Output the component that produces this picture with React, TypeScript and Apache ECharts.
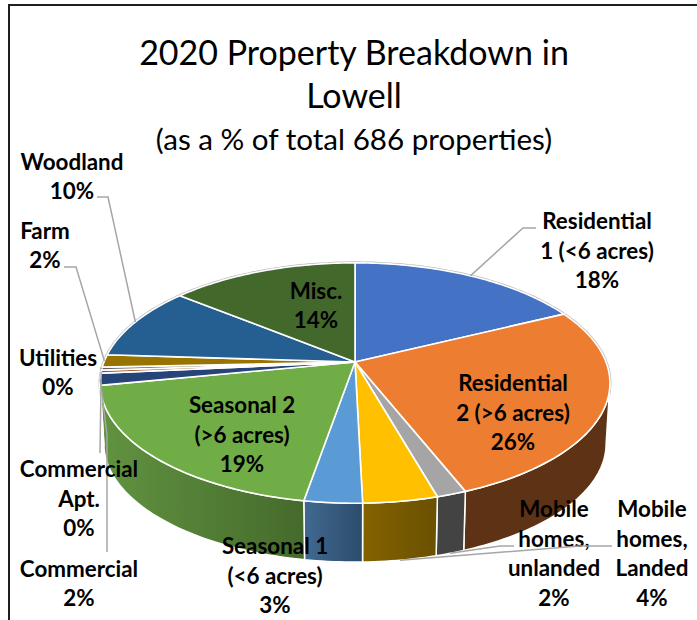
import React, { useEffect, useRef } from "react";
import * as echarts from "echarts";

const labelLines = [
  "Residential\n1 (<6 acres)",
  "Residential\n2 (>6 acres)",
  "Mobile\nhomes,\nunlanded",
  "Mobile\nhomes,\nLanded",
  "Seasonal 1\n(<6 acres)",
  "Seasonal 2\n(>6 acres)",
  "Commercial",
  "Commercial\nApt.",
  "Utilities",
  "Farm",
  "Woodland",
  "Misc.",
];
const shares = [17.7, 26.3, 1.6, 4.0, 3.1, 19.2, 1.6, 0.4, 0.4, 1.7, 9.9, 14.1];
const topColors = ["#4472C4", "#ED7D31", "#A5A5A5", "#FFC000", "#5B9BD5", "#70AD47", "#264478", "#9E480E", "#636363", "#997300", "#255E91", "#43682B"];
const wallLeft = ["#2A4478", "#5E3214", "#434343", "#836300", "#41698F", "#619340", "#172A4A", "#5F2B08", "#3B3B3B", "#5C4500", "#163856", "#283E1A"];
const wallRight = ["#2A4478", "#5E3214", "#434343", "#6A5000", "#2C4C6C", "#456A2C", "#172A4A", "#5F2B08", "#3B3B3B", "#5C4500", "#163856", "#283E1A"];
const labelCenters: number[][] = [
  [597, 250], [513, 412], [554, 553], [652, 553], [275, 575], [242, 434],
  [79, 583], [79, 498], [58, 372], [45, 245], [72, 176], [316, 305],
];
const leaderElbows: (number[][] | null)[] = [
  [[523, 228], [536, 228]],
  null,
  [[500, 546], [514, 546]],
  [[580, 546], [612, 546]],
  null,
  null,
  [[107, 435], [107, 552]],
  [[100, 453]],
  [[100, 368]],
  [[76, 267], [64, 267]],
  [[108, 197], [97, 197]],
  null,
];
const leaderFromFloor = [false, false, true, true, false, false, false, false, false, false, false, false];

const CX = 355;
const CY = 362;
const R = 251;
const TILT = 116.5;
const K = 0.175;
const WALL_DROP = 61;
const WALL_SCALE = 0.985;
const EDGE = Math.acos(-K);
const total = shares.reduce((a, b) => a + b, 0);

const startAngle = (i: number) => (shares.slice(0, i).reduce((a, b) => a + b, 0) / total) * Math.PI * 2;
const endAngle = (i: number) => startAngle(i + 1);

const rim = (a: number) => {
  const w = 1 + K * Math.cos(a);
  return [CX + (R * Math.sin(a)) / w, CY - (TILT * Math.cos(a)) / w];
};
const floor = (a: number) => {
  const p = rim(a);
  return [CX + (p[0] - CX) * WALL_SCALE, CY + WALL_DROP + (p[1] - CY) * WALL_SCALE];
};
const arc = (a0: number, a1: number, fn: (a: number) => number[]) => {
  const n = Math.max(2, Math.ceil((a1 - a0) / 0.02));
  const pts: number[][] = [];
  for (let j = 0; j <= n; j++) pts.push(fn(a0 + ((a1 - a0) * j) / n));
  return pts;
};

const renderWall = (params: any) => {
  const i = params.dataIndex;
  const a0 = startAngle(i);
  const a1 = endAngle(i);
  const children: any[] = [
    {
      type: "polyline",
      shape: { points: arc(a0, a1, rim) },
      style: { fill: "none", stroke: "#BDBDBD", lineWidth: 3 },
    },
  ];
  const w0 = Math.max(a0, EDGE);
  const w1 = Math.min(a1, Math.PI * 2 - EDGE);
  if (w1 > w0) {
    children.push({
      type: "polygon",
      shape: { points: [...arc(w0, w1, rim), ...arc(w0, w1, floor).reverse()] },
      style: {
        fill: new echarts.graphic.LinearGradient(0, 0, 1, 0, [
          { offset: 0, color: wallLeft[i] },
          { offset: 1, color: wallRight[i] },
        ]),
        stroke: "#fff",
        lineWidth: 1.5,
      },
    });
  }
  return { type: "group", children };
};

const renderTop = (params: any) => {
  const i = params.dataIndex;
  return {
    type: "polygon",
    shape: { points: [[CX, CY], ...arc(startAngle(i), endAngle(i), rim)] },
    style: { fill: topColors[i], stroke: "#fff", lineWidth: 1.6, lineJoin: "round" },
  };
};

const renderLabel = (params: any, api: any) => {
  const i = params.dataIndex;
  const children: any[] = [];
  const elbows = leaderElbows[i];
  if (elbows) {
    const mid = (startAngle(i) + endAngle(i)) / 2;
    const start = leaderFromFloor[i] ? floor(mid) : rim(mid);
    children.push({
      type: "polyline",
      shape: { points: [start, ...elbows] },
      style: { fill: "none", stroke: "#A6A6A6", lineWidth: 1.5 },
    });
  }
  children.push({
    type: "text",
    x: labelCenters[i][0],
    y: labelCenters[i][1],
    style: {
      text: `${labelLines[i]}\n${Math.round(api.value(0))}%`,
      align: "center",
      verticalAlign: "middle",
      fontFamily: "Lato",
      fontWeight: "bold",
      fontSize: 22.4,
      lineHeight: 29.5,
      fill: "#000",
    },
  });
  return { type: "group", children };
};

export default function App() {
  const ref = useRef<HTMLDivElement>(null);
  useEffect(() => {
    const chart = echarts.init(ref.current!, null, { renderer: "svg" });
    const titleStyle = { fontFamily: "Lato", fontWeight: "normal" as const, color: "#000" };
    chart.setOption({
      animation: false,
      backgroundColor: "#fff",
      title: [
        { text: "2020 Property Breakdown in", left: 349, top: 29, textAlign: "center", textStyle: { ...titleStyle, fontSize: 34 } },
        { text: "Lowell", left: 349, top: 72, textAlign: "center", textStyle: { ...titleStyle, fontSize: 34 } },
        { text: "(as a % of total 686 properties)", left: 349, top: 118, textAlign: "center", textStyle: { ...titleStyle, fontSize: 29.6 } },
      ],
      graphic: [
        { type: "polyline", shape: { points: [[9, 620], [9, 5], [697, 5]] }, style: { fill: "none", stroke: "#1F1F1F", lineWidth: 2 } },
      ],
      series: [
        { type: "custom", coordinateSystem: "none", renderItem: renderWall, data: shares, z: 1 },
        { type: "custom", coordinateSystem: "none", renderItem: renderTop, data: shares, z: 2 },
        { type: "custom", coordinateSystem: "none", renderItem: renderLabel, data: shares, z: 3 },
      ],
    });
    return () => chart.dispose();
  }, []);
  return <div ref={ref} style={{ position: "fixed", left: 0, top: 0, width: 697, height: 620 }} />;
}
